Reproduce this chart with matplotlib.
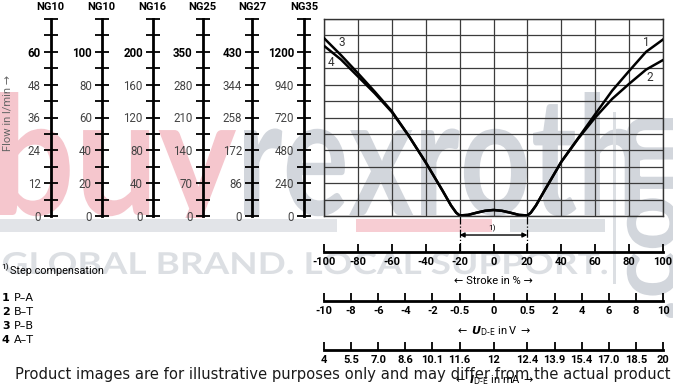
import numpy as np
import matplotlib
matplotlib.use("Agg")
import matplotlib.pyplot as plt
from matplotlib.textpath import TextPath
from matplotlib.font_manager import FontProperties
from matplotlib.patches import PathPatch, Rectangle
from matplotlib.transforms import Affine2D

plt.rcParams["font.family"] = ["DejaVu Sans"]

# --- data ---
ng_names = ["NG10", "NG10", "NG16", "NG25", "NG27", "NG35"]
ng_labels = [
    ["0", "12", "24", "36", "48", "60"],
    ["0", "20", "40", "60", "80", "100"],
    ["0", "40", "80", "120", "160", "200"],
    ["0", "70", "140", "210", "280", "350"],
    ["0", "86", "172", "258", "344", "430"],
    ["0", "240", "480", "720", "940", "1200"],
]

stroke_ticks = [-100, -80, -60, -40, -20, 0, 20, 40, 60, 80, 100]
stroke_labels = ["-100", "-80", "-60", "-40", "-20", "0", "20", "40", "60", "80", "100"]
signal_pos = [-100, -84, -68, -52, -36, -20, 0, 20, 36, 52, 68, 84, 100]
u_labels = ["-10", "-8", "-6", "-4", "-2", "-0.5", "0", "0.5", "2", "4", "6", "8", "10"]
i_labels = ["4", "5.5", "7.0", "8.6", "10.1", "11.6", "12", "12.4", "13.9", "15.4", "17.0", "18.5", "20"]

# flow in NG10 units (l/min), stroke in %
stroke_left = [-100, -90, -80, -70, -60, -50, -40]
flow_3 = [65.0, 58.8, 52.2, 45.4, 38.3, 29.3, 19.6]
flow_4 = [62.2, 57.2, 51.0, 44.8, 38.0, 29.3, 19.6]
stroke_mid = [-30, -25, -22, -20, -15, -10, -5, 0, 5, 10, 15, 20, 22, 25, 30]
flow_mid = [9.2, 3.8, 1.2, 0.2, 0.4, 1.2, 1.9, 2.2, 1.9, 1.2, 0.4, 0.2, 1.2, 3.8, 9.2]
stroke_right = [40, 50, 60, 70, 80, 90, 100]
flow_1 = [19.8, 28.5, 37.2, 45.8, 53.0, 60.0, 64.5]
flow_2 = [19.8, 28.3, 36.0, 42.8, 48.3, 53.5, 57.0]

legend_nums = ["1", "2", "3", "4"]
legend_txt = ["P\u2013A", "B\u2013T", "P\u2013B", "A\u2013T"]

W, H = 673, 388
fig = plt.figure(figsize=(W / 100, H / 100), dpi=100)


def fx(px):
    return px / W


def fy(py):
    return 1 - py / H


NARROW = ["Roboto", "DejaVu Sans"]

# --- watermark layer (underneath) ---
bg = fig.add_axes([0, 0, 1, 1], zorder=-5)
bg.set_xlim(0, W)
bg.set_ylim(H, 0)
bg.axis("off")


def fit_text(ax, s, x0, x1, top, base, color, clip_bottom=None):
    tp = TextPath((0, 0), s, size=100, prop=FontProperties(family="Lato", weight="bold"))
    ext = tp.get_extents()
    sx = (x1 - x0) / ext.width
    sy = (base - top) / ext.y1
    tr = Affine2D().translate(-ext.x0, 0).scale(sx, -sy).translate(x0, base)
    p = PathPatch(tr.transform_path(tp), fc=color, ec="none")
    ax.add_patch(p)
    if clip_bottom is not None:
        r = Rectangle((0, 0), W, clip_bottom, transform=ax.transData)
        p.set_clip_path(r)


fit_text(bg, "buy", 0, 236, 92, 215, "#f5c6cd", clip_bottom=218)
fit_text(bg, "rexroth", 244, 640, 92, 215, "#d2d6dc")
fit_text(bg, "GLOBAL BRAND. LOCAL SUPPORT.", 3, 607, 252, 274, "#dcdfe3")
bg.add_patch(Rectangle((0, 219), 337, 13, fc="#e2e4e8", ec="none"))
bg.add_patch(Rectangle((356, 219), 136, 13, fc="#f7cdd3", ec="none"))
bg.add_patch(Rectangle((510, 219), 95, 13, fc="#dcdfe3", ec="none"))
bg.add_patch(Rectangle((613, 112), 3, 172, fc="#dcdfe3", ec="none"))
tp = TextPath((0, 0), ".com", size=100, prop=FontProperties(family="Lato", weight="bold"))
ext = tp.get_extents()
sc = 200 / ext.width
tr = Affine2D().translate(-ext.x0, 0).scale(sc, sc).rotate_deg(90).scale(1, -1).translate(678, 318)
bg.add_patch(PathPatch(tr.transform_path(tp), fc="#d2d6dc", ec="none"))

# --- main chart ---
ax = fig.add_axes([fx(324), fy(216), 339 / W, 197 / H])
ax.set_facecolor("none")
ax.set_xlim(-100, 100)
ax.set_ylim(0, 72)
ax.set_xticks(stroke_ticks)
ax.set_yticks(np.arange(0, 73, 6))
ax.tick_params(length=0, labelbottom=False, labelleft=False)
ax.grid(True, color="#3c3c3c", lw=0.9)
for sp in ax.spines.values():
    sp.set_linewidth(1.0)
    sp.set_color("#333333")

ax.plot(stroke_left + stroke_mid + stroke_right, flow_3 + flow_mid + flow_1,
        color="black", lw=1.8, zorder=3)
ax.plot(stroke_left + stroke_mid + stroke_right, flow_4 + flow_mid + flow_2,
        color="black", lw=1.8, zorder=3)

for sx_, sy_, lab in [(-89.6, 63.3, "3"), (-95.9, 56.0, "4"), (90.4, 63.3, "1"), (92.3, 50.5, "2")]:
    ax.text(sx_, sy_, lab, fontsize=8.5, color="#333333", va="center", ha="center",
            family=NARROW)

# step compensation marker
for xv in (-20, 20):
    ax.plot([xv, xv], [0, -13.2], ls="-.", color="black", lw=0.9, clip_on=False)
ax.annotate("", xy=(-20, -6.95), xytext=(20, -6.95), annotation_clip=False,
            arrowprops=dict(arrowstyle="<|-|>", color="black", lw=1, mutation_scale=7,
                            shrinkA=0, shrinkB=0))
ax.text(-1, -4.4, "1)", fontsize=6, ha="center", va="center", family=NARROW)

# --- flow scales on the left ---
spine_x = [50.5, 101.5, 152.5, 202.5, 252, 304]
for xs, name, labs in zip(spine_x, ng_names, ng_labels):
    sa = fig.add_axes([fx(xs), fy(216), 0.0001, 197 / H])
    sa.set_facecolor("none")
    sa.set_ylim(0, 72)
    sa.set_xticks([])
    for k in ("right", "top", "bottom"):
        sa.spines[k].set_visible(False)
    sa.spines["left"].set_linewidth(2)
    pos = np.arange(0, 73, 6)
    tl = [labs[i // 2] if (i % 2 == 0 and i // 2 < len(labs)) else "" for i in range(len(pos))]
    sa.set_yticks(pos)
    sa.set_yticklabels(tl, family=NARROW, fontsize=8.3)
    sa.tick_params(axis="y", direction="inout", length=10, width=1.3, pad=2,
                   labelcolor="#444444")
    sa.get_yticklabels()[10].set_fontweight("bold")
    sa.get_yticklabels()[10].set_color("black")
    fig.text(fx(xs), fy(7), name, ha="center", va="center", fontsize=8,
             fontweight="bold", family=NARROW)

fig.text(fx(8), fy(113), "Flow in l/min \u2192", rotation=90, ha="center", va="center",
         fontsize=8, color="#666666", family=NARROW)

# --- bottom scales ---
scales = [
    (251.7, stroke_ticks, stroke_labels, 280.7, "\u2190 Stroke in % \u2192"),
    (300.7, signal_pos, u_labels, 330.7,
     "$\\leftarrow$ $\\mathbfit{U}_{\\mathrm{D\\text{-}E}}$ in V $\\rightarrow$"),
    (349.7, signal_pos, i_labels, 380.0,
     "$\\leftarrow$ $\\mathbfit{I}_{\\mathrm{D\\text{-}E}}$ in mA $\\rightarrow$"),
]
for ly, pos, labs, ty, title in scales:
    ba = fig.add_axes([fx(324), fy(ly), 339 / W, 0.0001])
    ba.set_facecolor("none")
    ba.set_xlim(-100, 100)
    ba.set_yticks([])
    for k in ("left", "right", "top"):
        ba.spines[k].set_visible(False)
    ba.spines["bottom"].set_linewidth(2)
    ba.set_xticks(pos)
    ba.set_xticklabels(labs, fontweight="bold", fontsize=8, family=NARROW)
    ba.tick_params(axis="x", direction="in", length=6, width=1.3, pad=4)
    fig.text(fx(493.5), fy(ty), title, ha="center", va="center", fontsize=8, family=NARROW)

# --- legend text ---
fig.text(fx(1), fy(267), "1)", fontsize=6, ha="left", va="center", family=NARROW)
fig.text(fx(10), fy(271.5), "Step compensation", fontsize=7.8, ha="left", va="center",
         family=NARROW)
for i, (n, t) in enumerate(zip(legend_nums, legend_txt)):
    yy = 298 + i * 14
    fig.text(fx(2), fy(yy), n, fontsize=8, fontweight="bold", ha="left", va="center")
    fig.text(fx(14), fy(yy), t, fontsize=8, ha="left", va="center")

fig.text(fx(15), fy(374), "Product images are for illustrative purposes only and may differ "
         "from the actual product", fontsize=10.6, color="#1a1a1a", ha="left", va="center",
         zorder=10)

fig.savefig("out.png", dpi=100)
